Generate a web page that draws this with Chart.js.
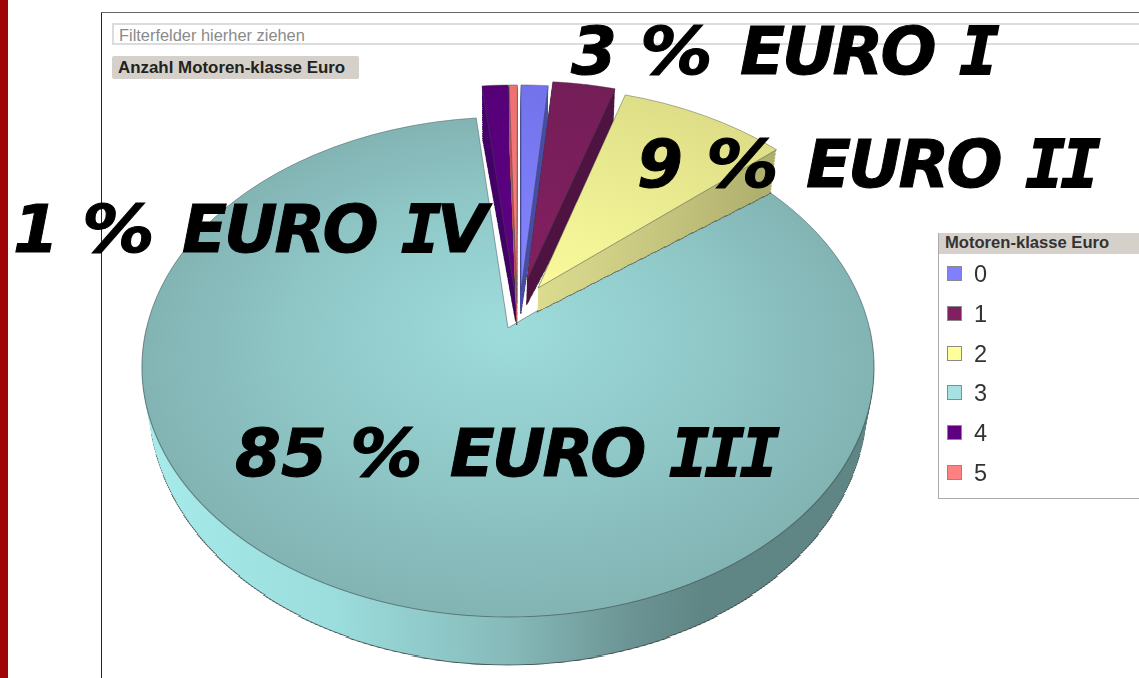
<!DOCTYPE html>
<html><head><meta charset="utf-8">
<script src="https://cdn.jsdelivr.net/npm/chart.js@4"></script>
<style>
html,body{margin:0;padding:0;background:#fff;overflow:hidden}
#stage{position:relative;width:1139px;height:678px;overflow:hidden;font-family:"Liberation Sans",sans-serif}
#stage>*{position:absolute}
#bar{left:0;top:0;width:8px;height:678px;background:#a00404}
#fl{left:101px;top:12px;width:1px;height:666px;background:#222}
#ft{left:101px;top:12px;width:1038px;height:1px;background:#666}
#filter{left:112px;top:23px;width:1040px;height:18px;border:2px solid #dcdcdc;color:#8a8a8a;font-size:16.4px;line-height:20px;padding-left:5px;box-sizing:content-box;white-space:nowrap}
#btn{left:112px;top:56px;width:247px;height:23px;background:#d5d1ca;border-radius:2px;font-weight:bold;font-size:16.9px;line-height:23px;padding-left:6px;box-sizing:border-box;color:#222;white-space:nowrap}
canvas{left:0;top:0}
#legend{left:938px;top:233px;width:210px;height:266px;border:1px solid #aaa;border-top:0;box-sizing:border-box}
#legend .h{height:21px;background:#d5d1ca;font-weight:bold;font-size:16.6px;line-height:20px;padding-left:6px;color:#333;white-space:nowrap}
#legend .i{position:absolute;left:8px;width:200px;height:16px}
#legend .i b{position:absolute;left:0;top:0;width:15px;height:15px;box-sizing:border-box;border:1px solid #8a8a8a}
#legend .i span{position:absolute;left:27px;top:-6px;font-size:23.5px;line-height:28px;color:#333}
.big{font:italic bold 66px "DejaVu Sans";color:#000;white-space:nowrap;line-height:66px;-webkit-text-stroke:1px #000}
.big .w{letter-spacing:-3px;margin-right:3px}
.big .p{display:inline-block;transform:scaleX(1.1);transform-origin:left center;margin-right:5px;width:72px;text-align:left}
.big .m{font-family:"DejaVu Sans Mono";letter-spacing:-4.5px;-webkit-text-stroke:2px #000}
</style></head><body>
<div id="stage">
<div id="bar"></div><div id="fl"></div><div id="ft"></div>
<div id="filter">Filterfelder hierher ziehen</div>
<div id="btn">Anzahl Motoren-klasse Euro</div>
<canvas id="c" width="1139" height="678"></canvas>
<div id="legend"><div class="h"></div></div>
</div>
<script>
// --- data (share of engines, per cent) ---
const categories = ['0','1','2','3','4','5'];
const values = [1.4, 3.3, 8.8, 84.8, 1.3, 0.4];
const legendTitle = 'Motoren-klasse Euro';
const colors = ['#8080ff','#802060','#ffff99','#a6e2e2','#600080','#ff8080'];
const annotationPercent = ['3', '9', '85', '1'];
const annotationRoman = ['I', 'II', 'III', 'IV'];

// --- style ---
const R = 361.5, k = -0.156, b = 243.9, a = 361.5, cx = 508, cy0 = 328;
// per slice: sideways shift, depth shift and stretch of the exploded wedge in the pie's plane
const explode = [[.037,-.16,1.02],[.054,-.203,1],[.085,-.168,1],[0,0,1],[.0225,-.117,1.063],[.025,-.104,1.076]];
const drawOrder = [3,4,5,0,1,2];
const wallColors = ['#4a4ea8','#4f1442',null,null,'#46006a','#c05a5a'];
const annoPos = [[571,19],[637,132],[235,421],[13,197]];

function rowMap(y){
  const yr = y - cy0, v = yr / (b - k*yr), den = 1 + k*v;
  return {v, s: a/den, slope: b/(den*den)};
}
function strip(ctx, el, du, dv, rs, y, h, dest, xs){
  const m = rowMap(y + h/2);
  const A = m.s/R*xs*rs, D = m.slope/R*rs, Yrow = el.y + (m.v - dv)/rs*R;
  ctx.save();
  ctx.beginPath(); ctx.rect(0, dest, 1139, h); ctx.clip();
  ctx.transform(A,0,0,D, cx + xs*m.s*du - A*el.x, dest + h/2 - D*Yrow);
  el.draw(ctx);
  ctx.restore();
}
function withOpts(el, o, fn){
  const old = el.options;
  el.options = Object.assign({}, old, o);
  fn();
  el.options = old;
}
const perspective = {
  id:'perspective',
  beforeDatasetsDraw(chart){
    const ctx = chart.ctx, arcs = chart.getDatasetMeta(0).data;
    const C = arcs[0];
    const radial = (c0,c1,mid) => {
      const g = ctx.createRadialGradient(C.x,C.y,0,C.x,C.y,R);
      g.addColorStop(0,c0); if(mid) g.addColorStop(.55,mid); g.addColorStop(1,c1); return g;
    };
    const tops = [
      radial('#8484ff','#7272ea'), radial('#821f60','#741e58'),
      radial('#fafa9c','#dede88'), radial('#9edcdc','#83b4b4','#90c8c8'),
      radial('#5e0084','#560078'), radial('#ff8080','#ee7070')
    ];
    const tealWall = ctx.createLinearGradient(C.x-R,0,C.x+R,0);
    tealWall.addColorStop(0,'#a8ecec'); tealWall.addColorStop(.285,'#9cdede');
    tealWall.addColorStop(.5,'#87baba'); tealWall.addColorStop(.645,'#6c9494');
    tealWall.addColorStop(.735,'#608585'); tealWall.addColorStop(1,'#608585');
    const yelWall = ctx.createLinearGradient(C.x,0,C.x+R*.85,0);
    yelWall.addColorStop(0,'#dcdc90'); yelWall.addColorStop(1,'#a8a868');

    for(const i of drawOrder){
      const el = arcs[i], [du,dv,rs] = explode[i], teal = i===3;
      const depth = teal ? (y => 35 + .052*(y-367)) : (y => 52 - .14*(y-85));
      const wall = teal ? tealWall : (i===2 ? yelWall : wallColors[i]);
      const vLo = -1.02, vHi = teal ? 1.02 : .03;
      const y0 = teal ? 360 : 60, y1 = teal ? 620 : 340;
      for(let f=1; f>0; f-=.034){
        const outline = f===1;
        withOpts(el,{backgroundColor:wall,borderWidth:outline?1:0,borderColor:'rgba(50,60,60,.75)'},()=>{
          for(let y=y0;y<y1;y+=2){
            const v = (rowMap(y+1).v - dv)/rs;
            if(v<vLo||v>vHi) continue;
            strip(ctx,el,du,dv,rs,y,3,Math.round(y+f*depth(y)),1-.02*f);
          }
        });
      }
      withOpts(el,{backgroundColor:tops[i],borderWidth:1,borderColor:'rgba(60,70,70,.6)'},()=>{
        for(let y=60;y<625;y++){
          const v = (rowMap(y+.5).v - dv)/rs;
          if(v<vLo||v>vHi) continue;
          strip(ctx,el,du,dv,rs,y,1,y,1);
        }
      });
    }
    return false;
  }
};

new Chart(document.getElementById('c'),{
  type:'pie',
  data:{labels:categories,datasets:[{data:values,backgroundColor:colors,borderWidth:0}]},
  options:{
    responsive:false,animation:false,rotation:.3,radius:R,
    layout:{padding:{right:123,bottom:22}},
    plugins:{legend:{display:false},tooltip:{enabled:false}}
  },
  plugins:[perspective]
});

const lg = document.getElementById('legend');
lg.querySelector('.h').textContent = legendTitle;
categories.forEach((c,i)=>{
  const d = document.createElement('div'); d.className='i';
  d.style.top = (33 + i*39.8)+'px';
  const sw = document.createElement('b'); sw.style.background = colors[i];
  const t = document.createElement('span'); t.textContent = c;
  d.append(sw,t); lg.append(d);
});
const st = document.getElementById('stage');
annotationPercent.forEach((n,i)=>{
  const d = document.createElement('div'); d.className='big';
  d.style.left = annoPos[i][0]+'px'; d.style.top = annoPos[i][1]+'px';
  const sp = (cls,txt)=>{const s=document.createElement('span'); s.className=cls; s.textContent=txt; return s;};
  d.append(n+' ', sp('p','%'), ' ', sp('w','EURO'), ' ');
  for(const ch of annotationRoman[i]) d.append(ch==='I'?sp('m',ch):ch);
  st.append(d);
});
</script>
</body></html>
